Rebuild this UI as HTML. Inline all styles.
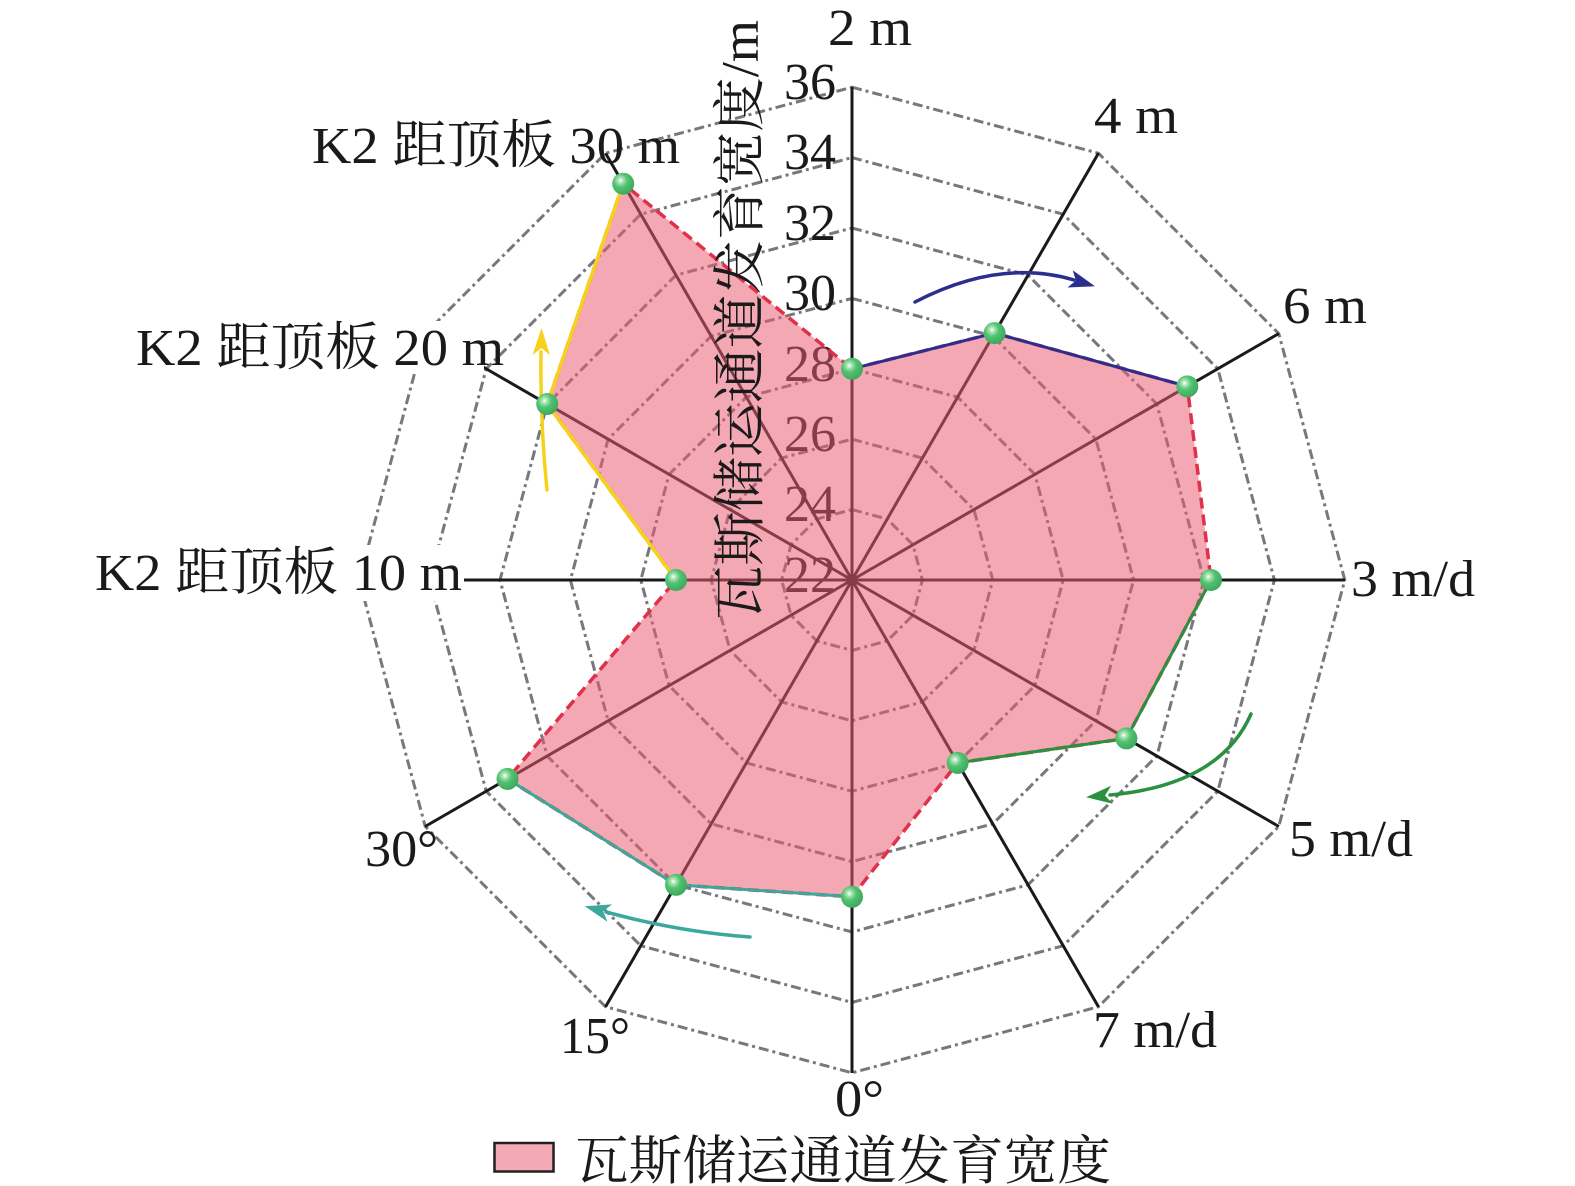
<!DOCTYPE html>
<html>
<head>
<meta charset="utf-8">
<style>
html,body{margin:0;padding:0;background:#fff;}
svg{display:block;}
text{font-family:"Liberation Serif","Noto Serif CJK SC",serif;fill:#1a1a1a;}
</style>
</head>
<body>
<svg width="1575" height="1186" viewBox="0 0 1575 1186" xmlns="http://www.w3.org/2000/svg" font-family="'Liberation Serif','Noto Serif CJK SC',serif">
<defs>
<radialGradient id="ball" cx="0.38" cy="0.35" r="0.7">
<stop offset="0" stop-color="#ffffff"/>
<stop offset="0.18" stop-color="#a6e3b4"/>
<stop offset="0.45" stop-color="#52c270"/>
<stop offset="1" stop-color="#3aa65a"/>
</radialGradient>
</defs>
<rect width="1575" height="1186" fill="#fff"/>

<!-- grid rings -->
<g fill="none" stroke="#77777f" stroke-width="3" stroke-dasharray="10 4 3 4">
<polygon points="852,509.6 887.2,519.03 912.97,544.8 922.4,580 912.97,615.2 887.2,640.97 852,650.4 816.8,640.97 791.03,615.2 781.6,580 791.03,544.8 816.8,519.03"/>
<polygon points="852,439.2 922.4,458.07 973.93,509.6 992.8,580 973.93,650.4 922.4,701.93 852,720.8 781.6,701.93 730.07,650.4 711.2,580 730.07,509.6 781.6,458.07"/>
<polygon points="852,368.8 957.6,397.1 1034.9,474.4 1063.2,580 1034.9,685.6 957.6,762.9 852,791.2 746.4,762.9 669.1,685.6 640.8,580 669.1,474.4 746.4,397.1"/>
<polygon points="852,298.4 992.8,336.13 1095.87,439.2 1133.6,580 1095.87,720.8 992.8,823.87 852,861.6 711.2,823.87 608.13,720.8 570.4,580 608.13,439.2 711.2,336.13"/>
<polygon points="852,228 1028,275.16 1156.84,404 1204,580 1156.84,756 1028,884.84 852,932 676,884.84 547.16,756 500,580 547.16,404 676,275.16"/>
<polygon points="852,157.6 1063.2,214.2 1217.8,368.8 1274.4,580 1217.8,791.2 1063.2,945.8 852,1002.4 640.8,945.8 486.2,791.2 429.6,580 486.2,368.8 640.8,214.2"/>
<polygon points="852,87.2 1098.4,153.22 1278.78,333.6 1344.8,580 1278.78,826.4 1098.4,1006.78 852,1072.8 605.6,1006.78 425.22,826.4 359.2,580 425.22,333.6 605.6,153.22"/>
</g>

<!-- axes -->
<g stroke="#1a1a1a" stroke-width="3">
<line x1="852" y1="580" x2="852" y2="87"/>
<line x1="852" y1="580" x2="1098.5" y2="153.1"/>
<line x1="852" y1="580" x2="1278.9" y2="333.5"/>
<line x1="852" y1="580" x2="1345" y2="580"/>
<line x1="852" y1="580" x2="1278.9" y2="826.5"/>
<line x1="852" y1="580" x2="1098.5" y2="1006.9"/>
<line x1="852" y1="580" x2="852" y2="1073"/>
<line x1="852" y1="580" x2="605.5" y2="1006.9"/>
<line x1="852" y1="580" x2="425.1" y2="826.5"/>
<line x1="852" y1="580" x2="359" y2="580"/>
<line x1="852" y1="580" x2="425.1" y2="333.5"/>
<line x1="852" y1="580" x2="605.5" y2="153.1"/>
</g>

<!-- tick labels -->
<g font-size="52" text-anchor="end">
<text x="836" y="99">36</text>
<text x="836" y="169">34</text>
<text x="836" y="240">32</text>
<text x="836" y="310">30</text>
<text x="836" y="381">28</text>
<text x="836" y="451">26</text>
<text x="836" y="521">24</text>
<text x="836" y="592">22</text>
</g>

<!-- label backgrounds -->
<rect x="92" y="545" width="372" height="56" fill="#fff"/>
<rect x="133" y="321" width="351" height="52" fill="#fff"/>

<!-- axis labels -->
<g font-size="52">
<text x="828" y="45" textLength="84" lengthAdjust="spacingAndGlyphs">2 m</text>
<text x="1094" y="133" textLength="84" lengthAdjust="spacingAndGlyphs">4 m</text>
<text x="1283" y="323" textLength="84" lengthAdjust="spacingAndGlyphs">6 m</text>
<text x="1351" y="596" textLength="124" lengthAdjust="spacingAndGlyphs">3 m/d</text>
<text x="1289" y="856" textLength="124" lengthAdjust="spacingAndGlyphs">5 m/d</text>
<text x="1093" y="1047" textLength="124" lengthAdjust="spacingAndGlyphs">7 m/d</text>
<text x="835" y="1116" textLength="49" lengthAdjust="spacingAndGlyphs">0°</text>
<text x="560" y="1053" textLength="70" lengthAdjust="spacingAndGlyphs">15°</text>
<text x="365" y="866" textLength="73" lengthAdjust="spacingAndGlyphs">30°</text>
<text x="95" y="590" textLength="367" lengthAdjust="spacingAndGlyphs">K2 距顶板 10 m</text>
<text x="136" y="365" textLength="368" lengthAdjust="spacingAndGlyphs">K2 距顶板 20 m</text>
<text x="312" y="163" textLength="368" lengthAdjust="spacingAndGlyphs">K2 距顶板 30 m</text>
</g>

<!-- filled area -->
<polygon points="852,368.8 994.6,333.1 1187.3,386.4 1211,580 1126.4,738.4 957.6,762.9 852,896.8 676,884.8 507.5,778.9 676,580 547.2,404 623.2,183.7" fill="rgb(232,90,114)" fill-opacity="0.53" stroke="#e0304a" stroke-width="3.5" stroke-dasharray="11 6"/>

<!-- colored segments -->
<g fill="none" stroke-width="3" stroke-linejoin="round">
<polyline points="852,368.8 994.6,333.1 1187.3,386.4" stroke="#2a2f8e"/>
<polyline points="1211,580 1126.4,738.4 957.6,762.9" stroke="#2a9140"/>
<polyline points="852,896.8 676,884.8 507.5,778.9" stroke="#3aa89a"/>
<polyline points="676,580 547.2,404 623.2,183.7" stroke="#f7d21a" stroke-width="3.5"/>
</g>

<!-- arrows -->
<g fill="none" stroke-width="3.5" stroke-linecap="round">
<path d="M915,302 Q1000,258 1074,280" stroke="#2a2f8e"/>
<path d="M1251,714 Q1220,785 1110,795" stroke="#2a9140"/>
<path d="M750,937 Q680,932 606,912" stroke="#3aa89a"/>
<path d="M547,490 Q540,420 541,352" stroke="#f7d21a"/>
</g>
<polygon points="1095,286.3 1072.7,270.3 1075.9,280.6 1067.5,287.5" fill="#2a2f8e"/>
<polygon points="1086.1,797.2 1111.2,785.8 1105,795.5 1112.8,803.8" fill="#2a9140"/>
<polygon points="584.8,906.3 612.2,904.4 603.1,911.3 607.5,921.8" fill="#3aa89a"/>
<polygon points="541.5,328 550,355 541.3,348 532.5,355" fill="#f7d21a"/>

<!-- points -->
<g fill="url(#ball)">
<circle cx="852" cy="368.8" r="11"/>
<circle cx="994.6" cy="333.1" r="11"/>
<circle cx="1187.3" cy="386.4" r="11"/>
<circle cx="1211" cy="580" r="11"/>
<circle cx="1126.4" cy="738.4" r="11"/>
<circle cx="957.6" cy="762.9" r="11"/>
<circle cx="852" cy="896.8" r="11"/>
<circle cx="676" cy="884.8" r="11"/>
<circle cx="507.5" cy="778.9" r="11"/>
<circle cx="676" cy="580" r="11"/>
<circle cx="547.2" cy="404" r="11"/>
<circle cx="623.2" cy="183.7" r="11"/>
</g>

<!-- radial axis title -->
<text transform="translate(758,620) rotate(-90)" font-size="53" textLength="600" lengthAdjust="spacingAndGlyphs">瓦斯储运通道发育宽度/m</text>

<!-- legend -->
<rect x="494.5" y="1143" width="59" height="28.5" fill="#f3a9b6" stroke="#231f20" stroke-width="2.5"/>
<text x="575" y="1179" font-size="53" textLength="536" lengthAdjust="spacingAndGlyphs">瓦斯储运通道发育宽度</text>
</svg>
</body>
</html>
